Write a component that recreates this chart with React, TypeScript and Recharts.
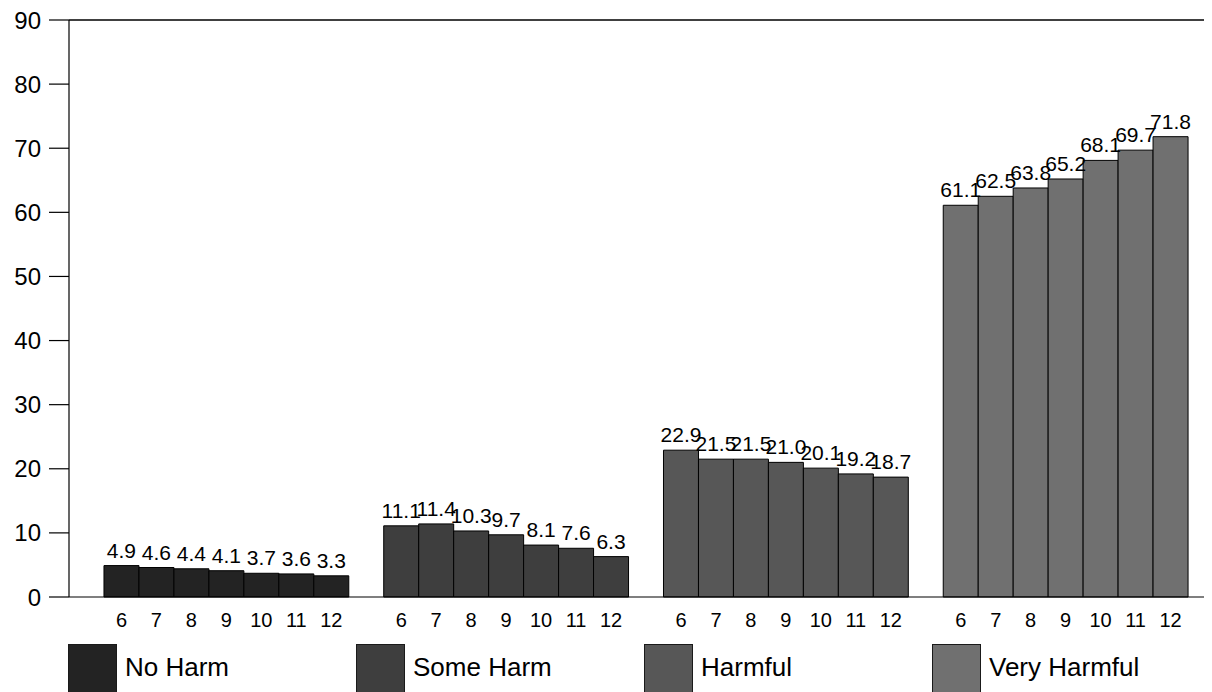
import { Bar, BarChart, Cell, LabelList, ReferenceLine, XAxis, YAxis } from "recharts";

const grades = ["6", "7", "8", "9", "10", "11", "12"];
const groups = ["No Harm", "Some Harm", "Harmful", "Very Harmful"];

const noHarm = [4.9, 4.6, 4.4, 4.1, 3.7, 3.6, 3.3];
const someHarm = [11.1, 11.4, 10.3, 9.7, 8.1, 7.6, 6.3];
const harmful = [22.9, 21.5, 21.5, 21.0, 20.1, 19.2, 18.7];
const veryHarmful = [61.1, 62.5, 63.8, 65.2, 68.1, 69.7, 71.8];

const yTicks = [0, 10, 20, 30, 40, 50, 60, 70, 80, 90];

const groupColors = ["#232323", "#3e3e3e", "#575757", "#707070"];
const font = "'Liberation Sans', Arial, sans-serif";

type Row = { slot: string; value: number | null; group: number };

// one empty slot before each group makes the gaps between groups
function buildRows(): Row[] {
  const series = [noHarm, someHarm, harmful, veryHarmful];
  const rows: Row[] = [];
  series.forEach((values, g) => {
    rows.push({ slot: `gap${g}|`, value: null, group: -1 });
    grades.forEach((grade, i) => {
      rows.push({ slot: `${g}-${i}|${grade}`, value: values[i], group: g });
    });
  });
  rows.push({ slot: "gapEnd|", value: null, group: -1 });
  return rows;
}

const rows = buildRows();

export default function App() {
  return (
    <div style={{ position: "relative", width: 1204, height: 684, overflow: "hidden", fontFamily: font }}>
      <BarChart
        width={1215}
        height={636}
        data={rows}
        barCategoryGap={0}
        margin={{ top: 12, right: 0, bottom: 0, left: 0 }}
      >
        <XAxis
          dataKey="slot"
          interval={0}
          tickLine={false}
          tickSize={0}
          tickMargin={16}
          height={47}
          axisLine={{ stroke: "#000", strokeWidth: 1.2 }}
          tick={{ fill: "#000", fontSize: 20, fontFamily: font }}
          tickFormatter={(v) => String(v).split("|")[1] ?? ""}
        />
        <YAxis
          domain={[0, 90]}
          ticks={yTicks}
          interval={0}
          width={61}
          tickSize={20}
          tickMargin={8}
          axisLine={{ stroke: "#000", strokeWidth: 1.2 }}
          tickLine={{ stroke: "#000", strokeWidth: 1.2 }}
          tick={{ fill: "#000", fontSize: 24, fontFamily: font }}
        />
        <ReferenceLine y={90} stroke="#000" strokeWidth={1.5} />
        <Bar dataKey="value" stroke="#000" strokeWidth={1} isAnimationActive={false}>
          {rows.map((row) => (
            <Cell key={row.slot} fill={row.group >= 0 ? groupColors[row.group] : "none"} />
          ))}
          <LabelList
            dataKey="value"
            position="top"
            offset={8}
            fill="#000"
            fontSize={21}
            fontFamily={font}
            formatter={(v: unknown) => (typeof v === "number" ? v.toFixed(1) : "")}
          />
        </Bar>
      </BarChart>
      <div style={{ position: "absolute", left: 60, top: 636, display: "flex" }}>
        {groups.map((name, g) => (
          <div key={name} style={{ width: 288, display: "flex", alignItems: "flex-start" }}>
            <div
              style={{
                width: 49,
                height: 49,
                boxSizing: "border-box",
                background: groupColors[g],
                border: "1px solid #1a1a1a",
              }}
            />
            <span style={{ marginLeft: 8, marginTop: 8, fontSize: 26, lineHeight: "30px", color: "#000" }}>
              {name}
            </span>
          </div>
        ))}
      </div>
    </div>
  );
}
